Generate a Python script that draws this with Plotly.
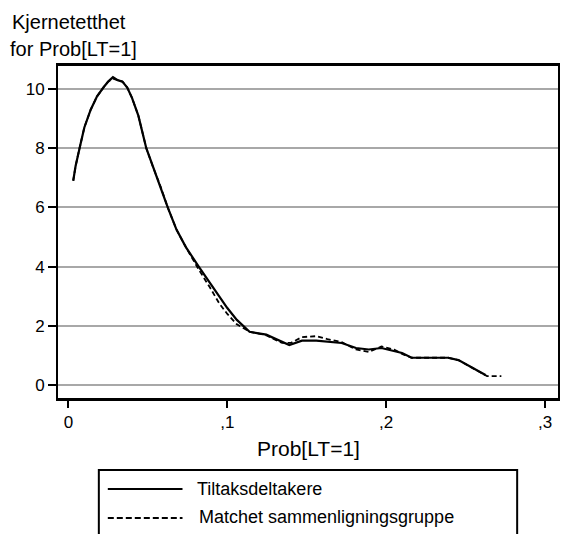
import plotly.graph_objects as go

# ---- data ----
solid_x = [0.003, 0.0045, 0.007, 0.010, 0.014, 0.018, 0.022, 0.025, 0.028, 0.031, 0.034,
           0.037, 0.040, 0.044, 0.049, 0.053, 0.058, 0.0625, 0.068, 0.074, 0.082, 0.089,
           0.095, 0.100, 0.106, 0.114, 0.1245, 0.1345, 0.139, 0.147, 0.156, 0.172, 0.181,
           0.189, 0.197, 0.210, 0.216, 0.2285, 0.239, 0.2455, 0.2536, 0.2625]
solid_y = [6.9, 7.4, 8.0, 8.7, 9.3, 9.75, 10.05, 10.25, 10.4, 10.3, 10.25,
           10.05, 9.7, 9.1, 8.0, 7.4, 6.7, 6.0, 5.25, 4.65, 4.0, 3.45,
           2.97, 2.6, 2.2, 1.8, 1.7, 1.45, 1.35, 1.5, 1.5, 1.42, 1.25,
           1.2, 1.25, 1.08, 0.92, 0.92, 0.92, 0.84, 0.61, 0.34]

dash_x = [0.003, 0.0045, 0.007, 0.010, 0.014, 0.018, 0.022, 0.025, 0.028, 0.031, 0.034,
          0.037, 0.040, 0.044, 0.049, 0.053, 0.058, 0.0625, 0.068, 0.074, 0.082, 0.089,
          0.095, 0.100, 0.106, 0.114, 0.1245, 0.1345, 0.140, 0.147, 0.156, 0.163, 0.172,
          0.181, 0.189, 0.197, 0.205, 0.210, 0.216, 0.2285, 0.239, 0.2455, 0.2536, 0.2635,
          0.2725]
dash_y = [6.9, 7.4, 8.0, 8.7, 9.3, 9.75, 10.05, 10.25, 10.35, 10.3, 10.25,
          10.05, 9.7, 9.1, 8.0, 7.4, 6.7, 6.0, 5.25, 4.65, 3.9, 3.3,
          2.75, 2.4, 2.05, 1.8, 1.68, 1.42, 1.42, 1.62, 1.65, 1.55, 1.45,
          1.2, 1.12, 1.3, 1.2, 1.05, 0.92, 0.92, 0.92, 0.84, 0.6, 0.3,
          0.3]

x_tickvals = [0, 0.1, 0.2, 0.3]
x_ticktext = ["0", ",1", ",2", ",3"]
y_tickvals = [0, 2, 4, 6, 8, 10]

series_names = ["Tiltaksdeltakere", "Matchet sammenligningsgruppe"]
y_title_lines = ["Kjernetetthet", "for Prob[LT=1]"]
x_title = "Prob[LT=1]"

# ---- layout geometry ----
W, H = 562, 534
L, R, T, B = 58, 2, 66, 136
PW, PH = W - L - R, H - T - B

def px_x(px):
    return (px - L) / PW

def px_y(py):
    return (H - B - py) / PH

FONT = "Liberation Sans, Arial, sans-serif"

fig = go.Figure()
fig.add_trace(go.Scatter(x=solid_x, y=solid_y, mode="lines", name=series_names[0],
                         line=dict(color="black", width=2.2), showlegend=False))
fig.add_trace(go.Scatter(x=dash_x, y=dash_y, mode="lines", name=series_names[1],
                         line=dict(color="black", width=1.8, dash="5px,3px"), showlegend=False))

fig.update_layout(
    width=W, height=H,
    margin=dict(l=L, r=R, t=T, b=B, pad=0),
    paper_bgcolor="white", plot_bgcolor="white",
    font=dict(family=FONT, color="black", size=17),
    xaxis=dict(range=[-0.00658, 0.30815], tickvals=x_tickvals, ticktext=x_ticktext,
               showgrid=False, zeroline=False, showline=True, linecolor="black",
               linewidth=2.5, mirror=True, ticks="outside", ticklen=7, tickwidth=2,
               tickcolor="black", tickfont=dict(size=17, family=FONT)),
    yaxis=dict(range=[-0.439, 10.777], tickvals=y_tickvals,
               showgrid=True, gridcolor="#a8a8a8", gridwidth=2, zeroline=False,
               showline=True, linecolor="black", linewidth=2, mirror=True,
               ticks="outside", ticklen=8, tickwidth=2, tickcolor="black",
               tickfont=dict(size=17, family=FONT)),
)

annotations = [
    dict(text=y_title_lines[0], x=px_x(10), y=px_y(22), xanchor="left", yanchor="middle"),
    dict(text=y_title_lines[1], x=px_x(8), y=px_y(49), xanchor="left", yanchor="middle"),
    dict(text=x_title, x=px_x(309), y=px_y(449), xanchor="center", yanchor="middle",
         font=dict(size=21, family=FONT, color="black")),
    dict(text=series_names[0], x=px_x(196), y=px_y(489), xanchor="left", yanchor="middle",
         align="left", font=dict(size=18, family=FONT, color="black")),
    dict(text=series_names[1], x=px_x(198), y=px_y(517), xanchor="left", yanchor="middle",
         align="left", font=dict(size=18, family=FONT, color="black")),
]
for a in annotations:
    a.setdefault("font", dict(size=20, family=FONT, color="black"))
    a.update(xref="paper", yref="paper", showarrow=False)
fig.update_layout(annotations=annotations)

shapes = [
    dict(type="rect", x0=px_x(99), x1=px_x(519), y0=px_y(545), y1=px_y(470),
         line=dict(color="black", width=2), fillcolor="rgba(0,0,0,0)"),
    dict(type="line", x0=px_x(108), x1=px_x(183), y0=px_y(489), y1=px_y(489),
         line=dict(color="black", width=2.2)),
    dict(type="line", x0=px_x(108), x1=px_x(183), y0=px_y(518), y1=px_y(518),
         line=dict(color="black", width=1.8, dash="6px,3px")),
]
for s in shapes:
    s.update(xref="paper", yref="paper")
fig.update_layout(shapes=shapes)

fig.write_html("out.html")
